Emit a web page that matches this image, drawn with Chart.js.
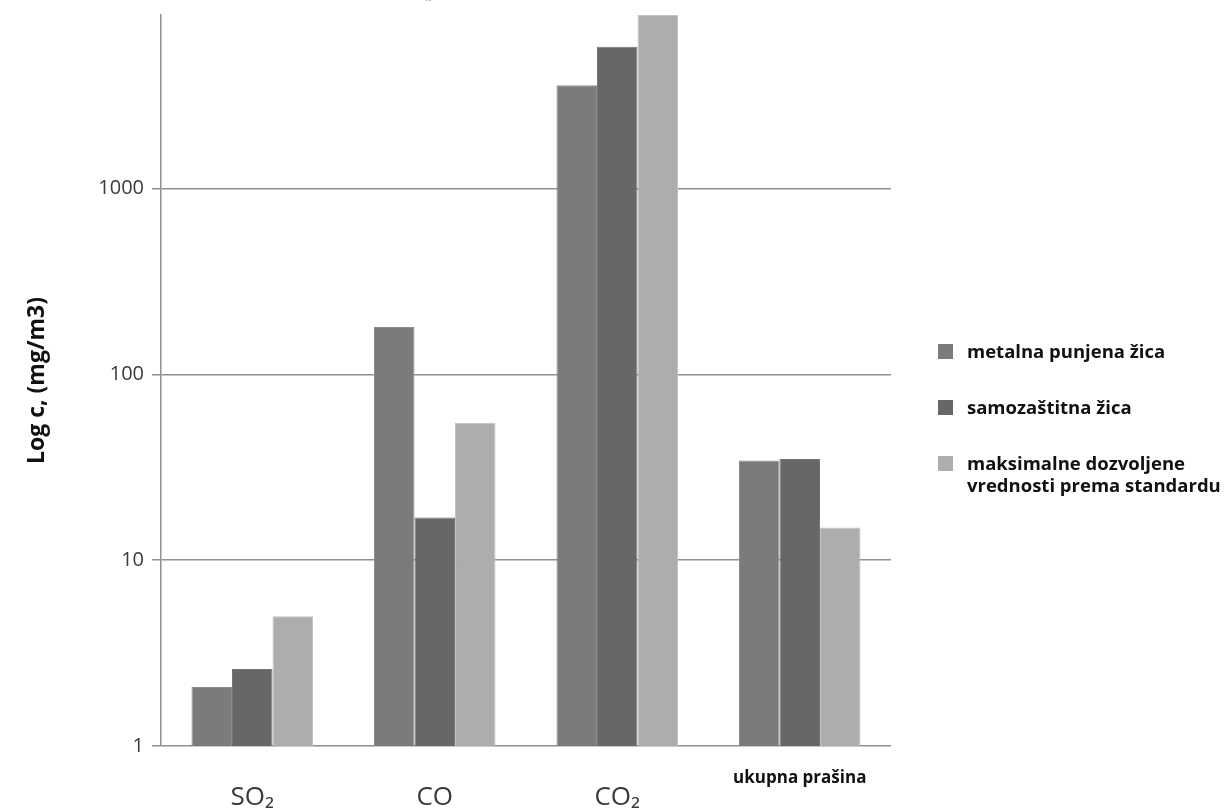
<!DOCTYPE html>
<html>
<head>
<meta charset="utf-8">
<script src="https://cdn.jsdelivr.net/npm/chart.js@4/dist/chart.umd.min.js"></script>
<style>
  html, body { margin: 0; padding: 0; background: #fff; }
  #wrap { position: relative; width: 1231px; height: 810px; }
  #legend { position: absolute; left: 938px; top: 340px; font: 700 18.5px 'Open Sans', sans-serif; color: #111; }
  .lg-item { display: flex; align-items: flex-start; margin-bottom: 34px; line-height: 22px; }
  .lg-box { width: 15px; height: 15px; margin: 4px 14px 0 0; flex: none; }
  .lg-text { white-space: pre-line; }
  #stray { position: absolute; left: 426px; top: -10px; font: 18px 'Open Sans', sans-serif; color: #222; }
</style>
</head>
<body>
<div id="wrap">
  <canvas id="chart" width="1231" height="810"></canvas>
  <div id="legend"></div>
  <span id="stray">”</span>
</div>
<script>
// ===== DATA =====
const categories = ['SO₂', 'CO', 'CO₂', 'ukupna prašina'];
const seriesNames = ['metalna punjena žica', 'samozaštitna žica', 'maksimalne dozvoljene\nvrednosti prema standardu'];
const metalnaPunjena = [2.08, 180, 3600, 34.4];
const samozastitna = [2.6, 17, 5800, 35];
const maxDozvoljene = [5, 55, 8600, 15];
const yTicks = [1, 10, 100, 1000];
const yMax = 8600;

const fills = ['#7b7b7b', '#676767', '#adadad'];
const edges = ['#8c8c8c', '#747474', '#c2c2c2'];
const seriesData = [metalnaPunjena, samozastitna, maxDozvoljene];

const datasets = seriesData.map((d, i) => ({
    label: seriesNames[i],
    data: d,
    backgroundColor: fills[i],
    borderColor: edges[i],
    borderWidth: 1,
    categoryPercentage: 0.666,
    barPercentage: 1
}));

const chart = new Chart(document.getElementById('chart').getContext('2d'), {
    type: 'bar',
    data: { labels: categories, datasets },
    options: {
        responsive: false,
        animation: false,
        layout: { padding: { top: 15, right: 340, left: 0, bottom: 0 } },
        plugins: { legend: { display: false }, tooltip: { enabled: false } },
        scales: {
            x: {
                grid: { display: false },
                border: { display: false },
                afterFit: s => { s.height = 64; },
                ticks: {
                    padding: 14,
                    maxRotation: 0,
                    color: c => c.index === 3 ? '#111' : '#3a3a3a',
                    // the chemical names sit lower than the bold dust label
                    font: c => c.index === 3
                        ? { family: 'Open Sans', size: 17, weight: 'bold', lineHeight: 1.2 }
                        : { family: 'Open Sans', size: 26, lineHeight: 2.3 }
                }
            },
            y: {
                type: 'logarithmic',
                min: 1,
                max: yMax,
                afterBuildTicks: s => { s.ticks = yTicks.map(v => ({ value: v })); },
                afterFit: s => { s.width = 161; s.paddingTop = 0; },
                grid: { color: '#8f8f8f', lineWidth: 1.5, tickLength: 9 },
                border: { color: '#8f8f8f', width: 1.5 },
                ticks: {
                    padding: 8,
                    color: '#3a3a3a',
                    font: { family: 'Open Sans', size: 20 },
                    callback: v => String(v)
                },
                title: {
                    display: true,
                    text: 'Log c, (mg/m3)',
                    color: '#111',
                    font: { family: 'Open Sans', size: 23, weight: 'bold' },
                    padding: { top: 24, bottom: 0 }
                }
            }
        }
    }
});

// ===== LEGEND =====
document.getElementById('legend').innerHTML = chart.data.datasets.map(ds =>
    `<div class="lg-item"><div class="lg-box" style="background:${ds.backgroundColor}"></div><div class="lg-text">${ds.label}</div></div>`
).join('');
</script>
</body>
</html>
